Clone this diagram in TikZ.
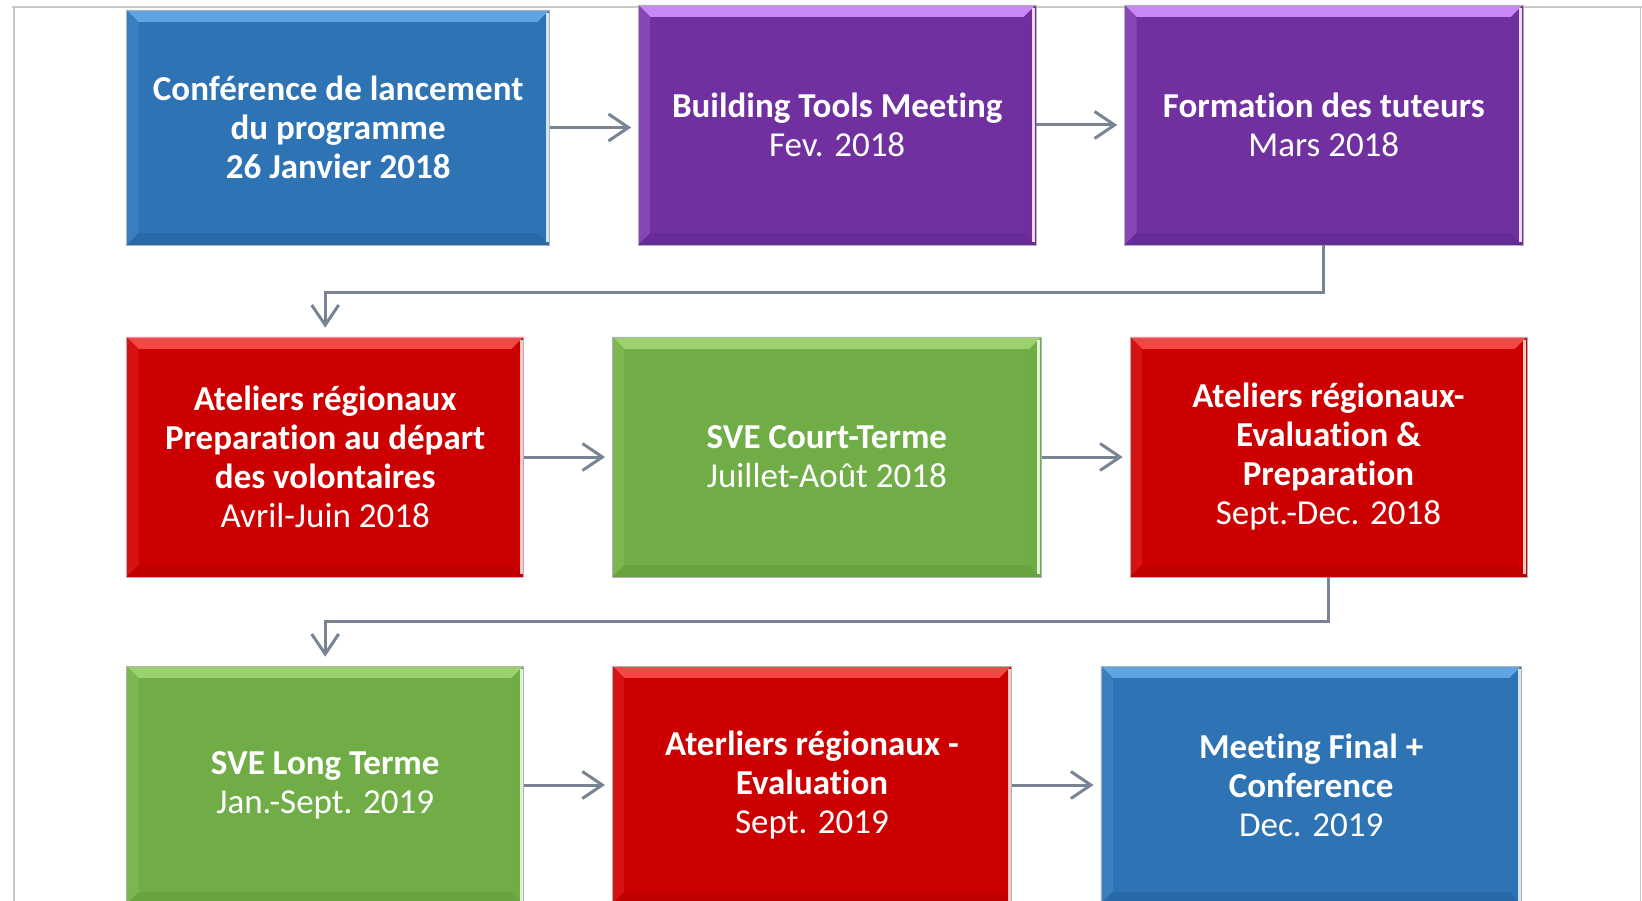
\documentclass[tikz,border=0pt]{standalone}
\usepackage{fontspec}
\setmainfont{Carlito}[Ligatures={NoCommon,NoContextual},Contextuals=NoAlternate]
\usetikzlibrary{arrows.meta}
\definecolor{cblue}{RGB}{46,116,181}
\definecolor{cbluehi}{RGB}{95,165,225}
\definecolor{cbluelo}{RGB}{40,106,168}
\definecolor{cpurple}{RGB}{112,48,160}
\definecolor{cpurplehi}{RGB}{200,135,245}
\definecolor{cpurplelo}{RGB}{104,42,150}
\definecolor{cred}{RGB}{204,0,0}
\definecolor{credhi}{RGB}{245,70,70}
\definecolor{credlo}{RGB}{192,0,0}
\definecolor{cgreen}{RGB}{112,173,71}
\definecolor{cgreenhi}{RGB}{155,210,110}
\definecolor{cgreenlo}{RGB}{104,163,64}
\definecolor{conncol}{RGB}{120,132,147}
\definecolor{framecol}{RGB}{200,200,200}
\begin{document}
\begin{tikzpicture}[x=1pt,y=-1pt,
  box/.style={rectangle, draw=black!30, line width=0.6pt, inner sep=0pt,
    text=white, align=center, font=\fontsize{35}{39}\selectfont},
  bevel/.style n args={3}{fill=#1, path picture={
    \coordinate (pNW) at (path picture bounding box.north west);
    \coordinate (pNE) at (path picture bounding box.north east);
    \coordinate (pSW) at (path picture bounding box.south west);
    \coordinate (pSE) at (path picture bounding box.south east);
    \fill[#2] (pNW) -- (pNE) -- ([shift={(-12,12)}]pNE) -- ([shift={(12,12)}]pNW) -- cycle;
    \fill[#1!75!#2] (pNW) -- ([shift={(12,12)}]pNW) -- ([shift={(12,-12)}]pSW) -- (pSW) -- cycle;
    \fill[#1!85!#3] (pNE) -- (pSE) -- ([shift={(-12,-12)}]pSE) -- ([shift={(-12,12)}]pNE) -- cycle;
    \fill[#3] (pSW) -- (pSE) -- ([shift={(-12,-12)}]pSE) -- ([shift={(12,-12)}]pSW) -- cycle;
    \fill[#1] ([shift={(12,12)}]pNW) rectangle ([shift={(-12,-12)}]pSE);
    \fill[white!70!#2] ([shift={(-4,3)}]pNE) rectangle ([shift={(-1,-3)}]pSE);
  }},
  bluebox/.style={box, bevel={cblue}{cbluehi}{cbluelo}},
  purplebox/.style={box, bevel={cpurple}{cpurplehi}{cpurplelo}},
  redbox/.style={box, bevel={cred}{credhi}{credlo}},
  greenbox/.style={box, bevel={cgreen}{cgreenhi}{cgreenlo}},
  conn/.style={draw=conncol, line width=3pt,
    -{Straight Barb[length=20pt,width=27pt,line width=3pt]}},
]
\useasboundingbox (0,0) rectangle (1642,901);
% frame
\draw[framecol, line width=2pt] (12,7.5) -- (1642,7.5);
\draw[framecol, line width=1.2pt] (14,7.5) -- (14,901);
\draw[framecol, line width=1.2pt] (1640.5,7.5) -- (1640.5,901);

% row 1
\node[bluebox, minimum width=423pt, minimum height=235pt] (b1) at (338.2,127.5)
  {\textbf{Conférence de lancement}\\\textbf{du programme}\\\textbf{26 Janvier  2018}};
\node[purplebox, minimum width=397.5pt, minimum height=240pt] (b2) at (837.2,125)
  {\textbf{Building  Tools  Meeting}\\Fev. 2018};
\node[purplebox, minimum width=398.5pt, minimum height=240pt] (b3) at (1323.8,125)
  {\textbf{Formation des tuteurs}\\Mars 2018};

% row 2
\node[redbox, minimum width=397pt, minimum height=240pt] (b4) at (325.2,457)
  {\textbf{Ateliers régionaux}\\\textbf{Preparation au départ}\\\textbf{des volontaires}\\Avril-Juin 2018};
\node[greenbox, minimum width=429pt, minimum height=240pt] (b5) at (826.9,457)
  {\textbf{SVE Court-Terme}\\Juillet-Août 2018};
\node[redbox, minimum width=397pt, minimum height=240pt] (b6) at (1328.5,457)
  {\textbf{Ateliers régionaux-}\\\textbf{Evaluation  \&}\\\textbf{Preparation}\\Sept.-Dec.  2018};

% row 3
\node[greenbox, minimum width=397pt, minimum height=238pt] (b7) at (325.2,785)
  {\textbf{SVE Long Terme}\\Jan.-Sept.  2019};
\node[redbox, minimum width=399.4pt, minimum height=238pt] (b8) at (812,785)
  {\textbf{Aterliers régionaux  -}\\\textbf{Evaluation}\\Sept.  2019};
\node[bluebox, minimum width=420.7pt, minimum height=238pt] (b9) at (1311.2,785)
  {\textbf{Meeting Final +}\\\textbf{Conference}\\Dec. 2019};

% connectors
\draw[conn, shorten >=7pt] (b1.east) -- (b1.east -| b2.west);
\draw[conn, shorten >=7pt] (b2.east) -- (b2.east -| b3.west);
\draw[conn, shorten >=9pt] (b3.south) -- ++(0,47) -| (b4.north);
\draw[conn, shorten >=7pt] (b4.east) -- (b4.east -| b5.west);
\draw[conn, shorten >=7pt] (b5.east) -- (b5.east -| b6.west);
\draw[conn, shorten >=9pt] (b6.south) -- ++(0,44) -| (b7.north);
\draw[conn, shorten >=7pt] (b7.east) -- (b7.east -| b8.west);
\draw[conn, shorten >=7pt] (b8.east) -- (b8.east -| b9.west);
\end{tikzpicture}
\end{document}
